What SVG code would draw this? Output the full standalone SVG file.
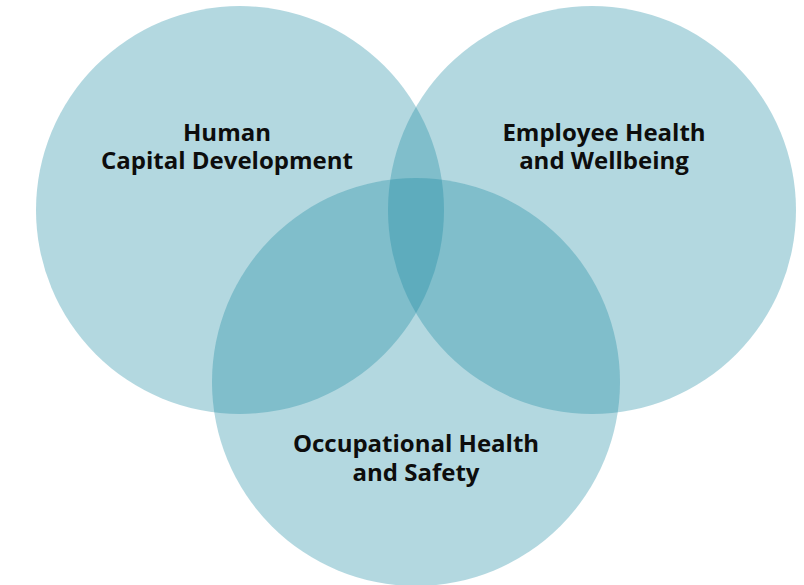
<svg xmlns="http://www.w3.org/2000/svg" width="804" height="585" viewBox="0 0 804 585">
  <style>
    .c { fill: #1989a1; fill-opacity: 0.33; }
    .t { font-family: "Open Sans", "DejaVu Sans", sans-serif; font-weight: 700; font-size: 24px; fill: #0d0d0d; text-anchor: middle; }
  </style>
  <rect width="804" height="585" fill="#ffffff"/>
  <g id="node-hcd">
    <circle class="c" cx="240" cy="210" r="204"/>
    <text class="t"><tspan x="227" y="141">Human</tspan><tspan x="227" y="169">Capital Development</tspan></text>
  </g>
  <g id="node-ehw">
    <circle class="c" cx="592" cy="210" r="204"/>
    <text class="t"><tspan x="604" y="141">Employee Health</tspan><tspan x="604" y="169">and Wellbeing</tspan></text>
  </g>
  <g id="node-ohs">
    <circle class="c" cx="416" cy="382" r="204"/>
    <text class="t"><tspan x="416" y="452">Occupational Health</tspan><tspan x="416" y="481">and Safety</tspan></text>
  </g>
  <g id="connectors"/>
</svg>
